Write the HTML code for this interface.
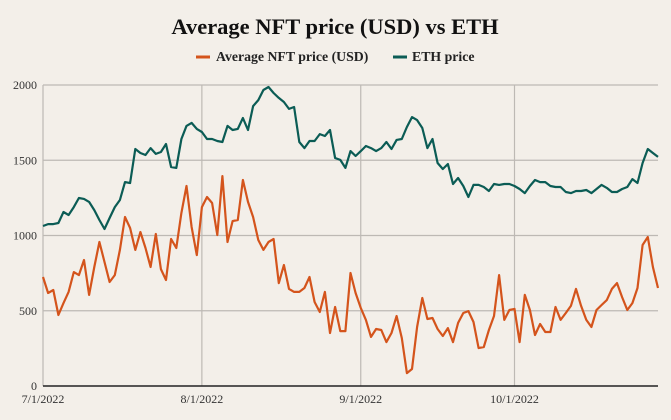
<!DOCTYPE html>
<html><head><meta charset="utf-8"><style>
body{margin:0;background:#f3efe9;}
svg{display:block;font-family:"Liberation Serif",serif;}
</style></head><body>
<svg id="chart" width="671" height="420" viewBox="0 0 671 420">
<rect width="671" height="420" fill="#f3efe9"/>
<text x="335" y="34" text-anchor="middle" font-size="22.5" font-weight="bold" fill="#111">Average NFT price (USD) vs ETH</text>
<g>
<g><line x1="196" y1="57" x2="210" y2="57" stroke="#d4541c" stroke-width="3"/><text x="216" y="61" font-size="13.8" font-weight="bold" fill="#222">Average NFT price (USD)</text></g>
<g><line x1="393" y1="57" x2="407" y2="57" stroke="#0b5c55" stroke-width="3"/><text x="412" y="61" font-size="13.8" font-weight="bold" fill="#222">ETH price</text></g>
</g>
<g id="grid"></g><g id="series"></g><g id="axes"></g>
</svg>
<script>
const yTicks=[0,500,1000,1500,2000];
const xTickIdx=[0,31,62,92];
const xTickLabels=["7/1/2022","8/1/2022","9/1/2022","10/1/2022"];
const nftPrice=[724,618,638,472,551,625,757,737,837,605,791,957,824,691,737,904,1123,1050,904,1023,917,791,1010,777,704,977,917,1150,1329,1057,870,1189,1256,1216,1003,1395,957,1096,1103,1369,1223,1123,970,
904,957,977,684,804,645,625,625,651,724,558,492,625,352,525,365,365,751,618,518,439,326,379,372,292,352,465,319,86,113,392,585,445,452,379,332,385,292,419,485,498,
425,252,259,372,465,737,439,505,512,292,605,505,339,412,359,359,525,439,485,532,645,532,439,392,505,538,571,645,684,591,505,551,651,937,990,791,651];
const ethPrice=[1063,1076,1076,1083,1156,1136,1189,1249,1243,1223,1169,1103,1043,1116,1189,1236,1355,1349,1575,1548,1535,1581,1542,1555,1608,1455,1449,1641,1728,1748,1708,1688,1641,1641,1628,1621,1728,1701,1708,1781,1701,1860,1900,
1967,1987,1947,1914,1887,1841,1854,1621,1581,1628,1628,1674,1661,1701,1515,1502,1449,1561,1528,1561,1595,1581,1561,1581,1621,1575,1635,1641,1721,1787,1767,1714,1581,1641,1482,1442,1475,1342,1382,1329,1256,
1336,1336,1322,1296,1342,1336,1342,1342,1329,1309,1282,1329,1369,1355,1355,1329,1322,1322,1289,1282,1296,1296,1302,1282,1309,1336,1316,1289,1289,1309,1322,1375,1349,1482,1575,1548,1522];
const X0=43,X1=658,Y0=386,Y1=85,NS="http://www.w3.org/2000/svg";
const xs=i=>X0+i*(X1-X0)/120;
const ys=v=>Y0-v*(Y0-Y1)/2000;
function mk(t,a,p){const e=document.createElementNS(NS,t);for(const k in a)e.setAttribute(k,a[k]);p.appendChild(e);return e;}
const grid=document.getElementById('grid'),axes=document.getElementById('axes'),ser=document.getElementById('series');
yTicks.forEach(v=>{
 if(v>0){const l=mk('line',{x1:X0,x2:X1,y1:ys(v),y2:ys(v),stroke:'#bdb9b4','stroke-width':1.2},grid);
 
 }
 const t=mk('text',{x:37,y:ys(v)+4,'text-anchor':'end','font-size':12,fill:'#333'},axes);t.textContent=v;
 
 
});
xTickIdx.forEach((d,i)=>{
 const l=mk('line',{x1:xs(d),x2:xs(d),y1:Y1,y2:Y0,stroke:'#bdb9b4','stroke-width':1.2},grid);
 
 
 const t=mk('text',{x:Math.max(xs(d),37),y:403,'text-anchor':'middle','font-size':12,fill:'#333'},axes);t.textContent=xTickLabels[i];
 
 
});
const ax=mk('line',{x1:X0,x2:X1,y1:Y0,y2:Y0,stroke:'#222','stroke-width':1.5},axes);


function line(arr,col,name){
 const d=arr.map((v,i)=>(i?'L':'M')+xs(i).toFixed(1)+','+ys(v).toFixed(1)).join('');
 const p=mk('path',{d:d,fill:'none',stroke:col,'stroke-width':2.2,'stroke-linejoin':'round'},ser);
 
 
}
line(ethPrice,'#0b5c55','eth-price-line');
line(nftPrice,'#d4541c','nft-price-line');
</script>
</body></html>
